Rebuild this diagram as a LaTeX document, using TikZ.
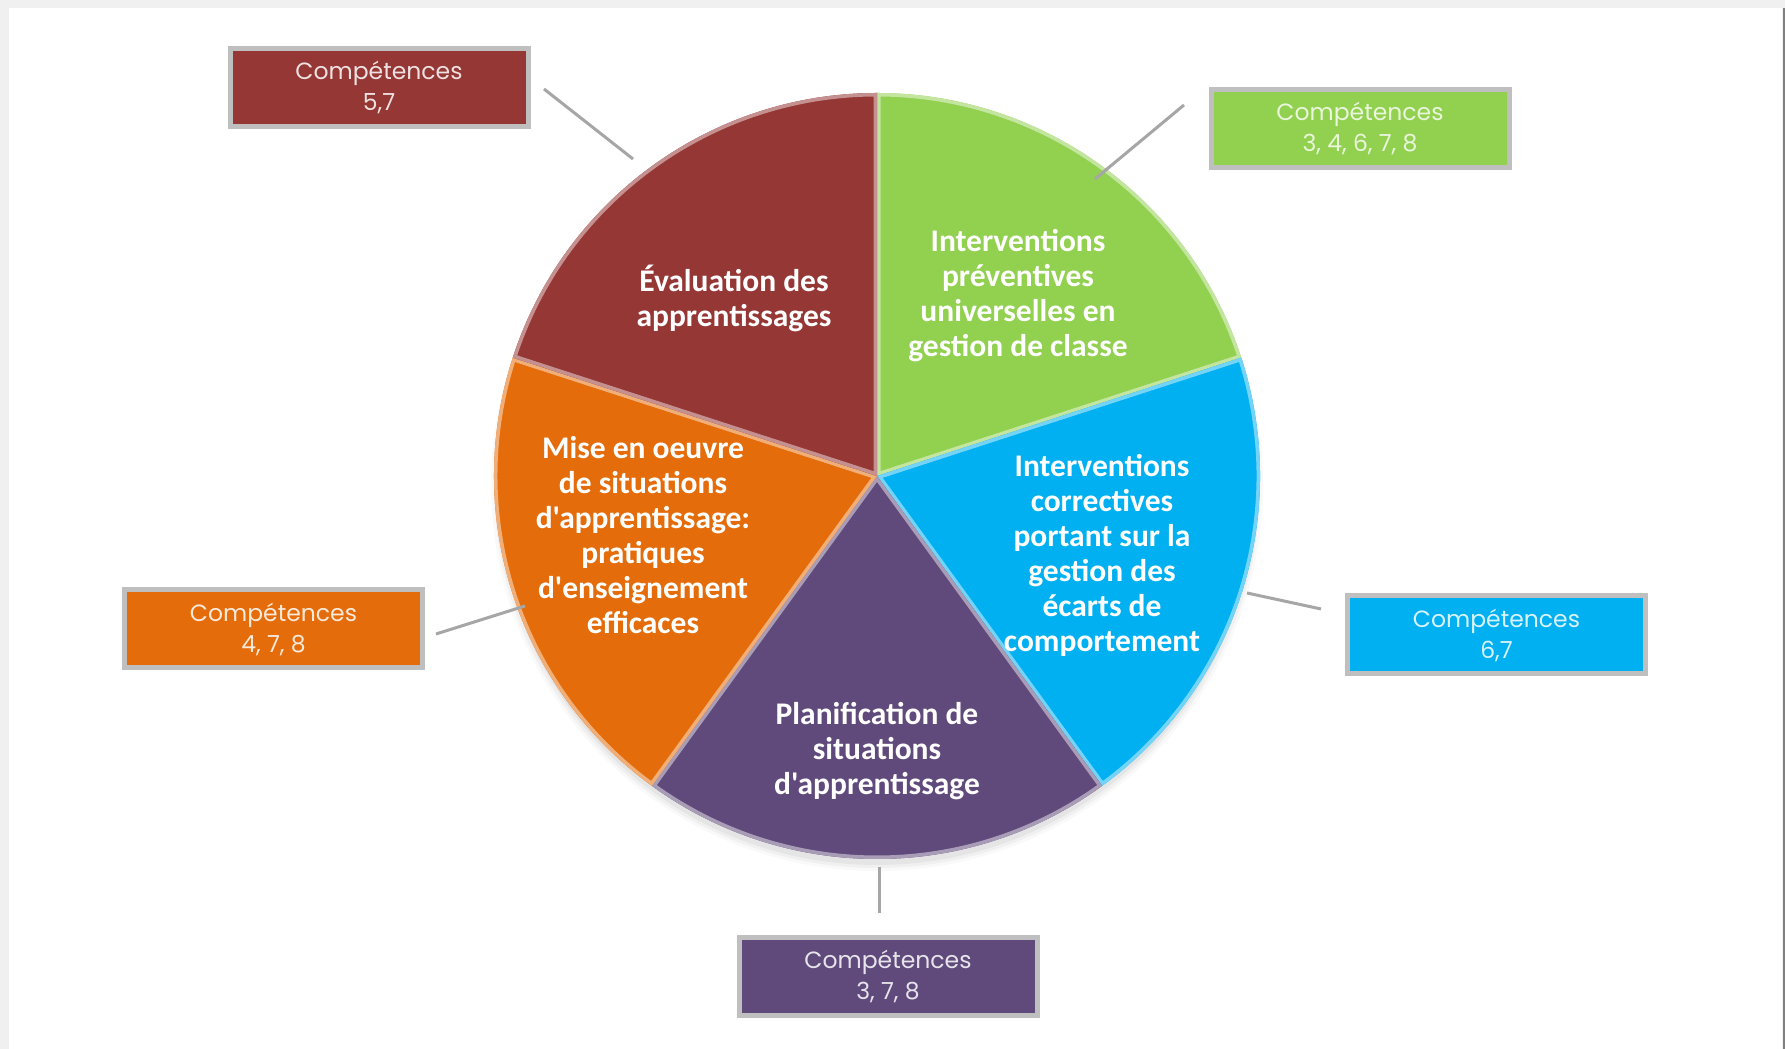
\documentclass[tikz,border=0pt]{standalone}
\usepackage{fontspec}
\newfontfamily\boxfont{Poppins}
\newfontfamily\piefont{Carlito}
\definecolor{cred}{HTML}{953735}
\definecolor{cgreen}{HTML}{92D050}
\definecolor{corange}{HTML}{E46C0A}
\definecolor{cblue}{HTML}{00B0F0}
\definecolor{cpurple}{HTML}{604A7B}
\definecolor{boxgray}{HTML}{BFBFBF}
\definecolor{linegray}{HTML}{A6A6A6}
\definecolor{framegray}{HTML}{F0F0F0}
\newcommand\pieslice[3]{%
  \begin{scope}
    \clip (877,573) -- +(#2:383) arc[start angle=#2, end angle=#3, radius=383] -- cycle;
    \fill[#1] (877,573) circle (390);
    \draw[#1!55!white, line width=7pt, line join=round] (877,573) -- +(#2:383) arc[start angle=#2, end angle=#3, radius=383] -- cycle;
  \end{scope}}
\begin{document}
\begin{tikzpicture}[x=1pt,y=1pt,
  compbox/.style={draw=boxgray, line width=5pt, minimum width=298pt, minimum height=78pt,
    font=\boxfont\fontsize{23.5}{31}\selectfont, align=center, inner sep=0pt},
  pielabel/.style={text=white, font=\piefont\bfseries\fontsize{31.5}{35}\selectfont, align=center},
  link/.style={draw=linegray, line width=3pt}]
\useasboundingbox (0,0) rectangle (1785,1049);
\fill[framegray] (0,0) rectangle (1785,1049);
\fill[white] (9,0) rectangle (1782,1041);
\draw[gray, line width=2pt] (1784,0) -- (1784,1041);

% soft shadow
\foreach \r/\o in {386/0.025,383/0.035,380/0.045}{
  \fill[black, opacity=\o] (877,564) circle (\r);
}

% pie
\pieslice{cgreen}{18}{90}
\pieslice{cblue}{-54}{18}
\pieslice{cpurple}{-126}{-54}
\pieslice{corange}{162}{234}
\pieslice{cred}{90}{162}

% pie labels
\node[pielabel] (tred) at (734,751) {Évaluation des\\apprentissages};
\node[pielabel] (tgreen) at (1018,753) {Interventions\\préventives\\universelles en\\gestion de classe};
\node[pielabel] (tblue) at (1102,494) {Interventions\\correctives\\portant sur la\\gestion des\\écarts de\\comportement};
\node[pielabel] (tpurple) at (877,298) {Planification de\\situations\\d'apprentissage};
\node[pielabel] (torange) at (643,514) {Mise en oeuvre\\de situations\\d'apprentissage:\\pratiques\\d'enseignement\\efficaces};

% boxes
\node[compbox, fill=cred, text=white!85!cred] (bred) at (379,961.5) {Compétences\\5,7};
\node[compbox, fill=cgreen, text=white!80!cgreen] (bgreen) at (1360,920) {Compétences\\3, 4, 6, 7, 8};
\node[compbox, fill=corange, text=white!85!corange] (borange) at (273.5,420) {Compétences\\4, 7, 8};
\node[compbox, fill=cblue, text=white!85!cblue] (bblue) at (1496.5,414) {Compétences\\6,7};
\node[compbox, fill=cpurple, text=white!85!cpurple] (bpurple) at (888,72.5) {Compétences\\3, 7, 8};

% connector ends
\coordinate (r1) at (544,960); \coordinate (r2) at (633,890);
\coordinate (g1) at (1184,944); \coordinate (g2) at (1095,870);
\coordinate (o1) at (436,415); \coordinate (o2) at (525,443);
\coordinate (b1) at (1247,456); \coordinate (b2) at (1321,440);
\coordinate (p1) at (879,182); \coordinate (p2) at (879,136);
\draw[link] (r1) -- (r2);
\draw[link] (g1) -- (g2);
\draw[link] (o1) -- (o2);
\draw[link] (b1) -- (b2);
\draw[link] (p1) -- (p2);
\end{tikzpicture}
\end{document}
